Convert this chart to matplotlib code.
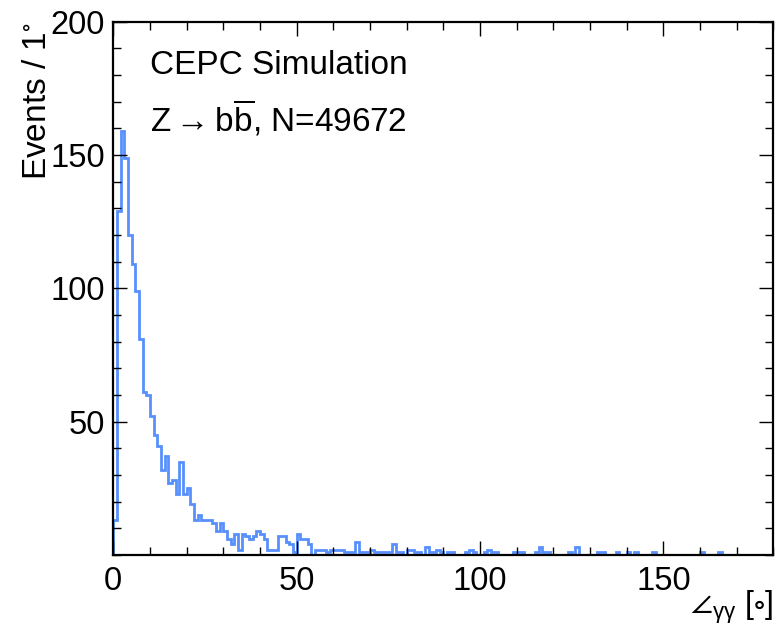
import numpy as np
import matplotlib
matplotlib.use("Agg")
import matplotlib.pyplot as plt
from matplotlib.ticker import MultipleLocator

# ---- data (events per 1 degree bin, 0..180) ----
counts_head = [13, 129, 159, 149, 120, 109, 99, 81, 61, 60,
               52, 45, 41, 32, 37, 27, 28, 23, 35, 23,
               25, 19, 13, 15, 13, 13, 13, 12, 9, 12,
               9, 6, 4, 8, 2, 8, 7, 6, 7, 9,
               8, 6, 2, 2, 2, 7, 7, 5, 4, 1,
               8, 6, 6, 4, 0, 2, 2, 2, 1, 2,
               2, 2, 2, 1, 1, 1, 5, 1, 1, 1,
               2, 1, 1, 1, 1, 1, 4, 1, 1, 0,
               2, 2, 1, 1, 0, 3, 1, 1, 2, 1,
               0, 1, 1, 0, 0, 0, 1, 2, 1, 0,
               0, 1, 2, 1, 1, 0, 0, 0, 0, 1,
               1, 1, 0, 0, 0, 1, 3, 1, 1, 0,
               0, 0, 0, 0, 1, 0, 3, 0, 0, 0,
               0, 0, 1, 1, 0, 0, 0, 1, 0, 0,
               1, 0, 1, 0, 0, 0, 0, 1, 0, 0,
               0, 0, 0, 0, 0, 0, 0, 0, 0, 0,
               1, 0, 0, 0, 0, 1, 0, 0, 0, 0,
               0, 0, 0, 0, 0, 0, 0, 0, 0, 0]
bin_edges = np.arange(0, 181, 1)
x_ticks = [0, 50, 100, 150]
y_ticks = [50, 100, 150, 200]
line_color = "#5790fc"
title1 = "CEPC Simulation"
title2 = r"Z$\rightarrow$b$\overline{\mathrm{b}}$, N=49672"
xlabel = r"$\angle_{\mathrm{γγ}}$ [$\circ$]"
ylabel = r"Events / 1$^{\circ}$"

plt.rcParams["font.family"] = ["Liberation Sans", "DejaVu Sans"]
plt.rcParams["mathtext.fontset"] = "custom"
plt.rcParams["mathtext.rm"] = "Liberation Sans"
plt.rcParams["mathtext.it"] = "Liberation Sans:italic"
plt.rcParams["mathtext.sf"] = "Liberation Sans"
plt.rcParams["mathtext.fallback"] = "stixsans"

fig = plt.figure(figsize=(7.82, 6.30), dpi=100)
ax = fig.add_axes([0.1449, 0.119, 0.844, 0.8466])

ax.stairs(counts_head, bin_edges, color=line_color, linewidth=2.0)

ax.set_xlim(0, 180)
ax.set_ylim(0, 200)
ax.set_xticks(x_ticks)
ax.set_yticks(y_ticks)
ax.xaxis.set_minor_locator(MultipleLocator(10))
ax.yaxis.set_minor_locator(MultipleLocator(10))
ax.tick_params(which="both", direction="in", top=True, right=True, labelsize=23.5)
ax.tick_params(which="major", length=10, width=1)
ax.tick_params(which="minor", length=5.5, width=1)
ax.tick_params(axis="x", pad=8)
ax.tick_params(axis="y", pad=6)
for s in ax.spines.values():
    s.set_linewidth(1.6)
    s.set_zorder(3)

ax.set_xlabel(xlabel, fontsize=23, ha="right", va="top")
ax.xaxis.set_label_coords(1.0, -0.063)
ax.set_ylabel(ylabel, loc="top", fontsize=24, labelpad=-2)

ax.text(0.056, 0.918, title1, transform=ax.transAxes, fontsize=24, va="center", ha="left")
ax.text(0.056, 0.818, title2, transform=ax.transAxes, fontsize=24, va="center", ha="left")

fig.savefig("out.png", dpi=100)
